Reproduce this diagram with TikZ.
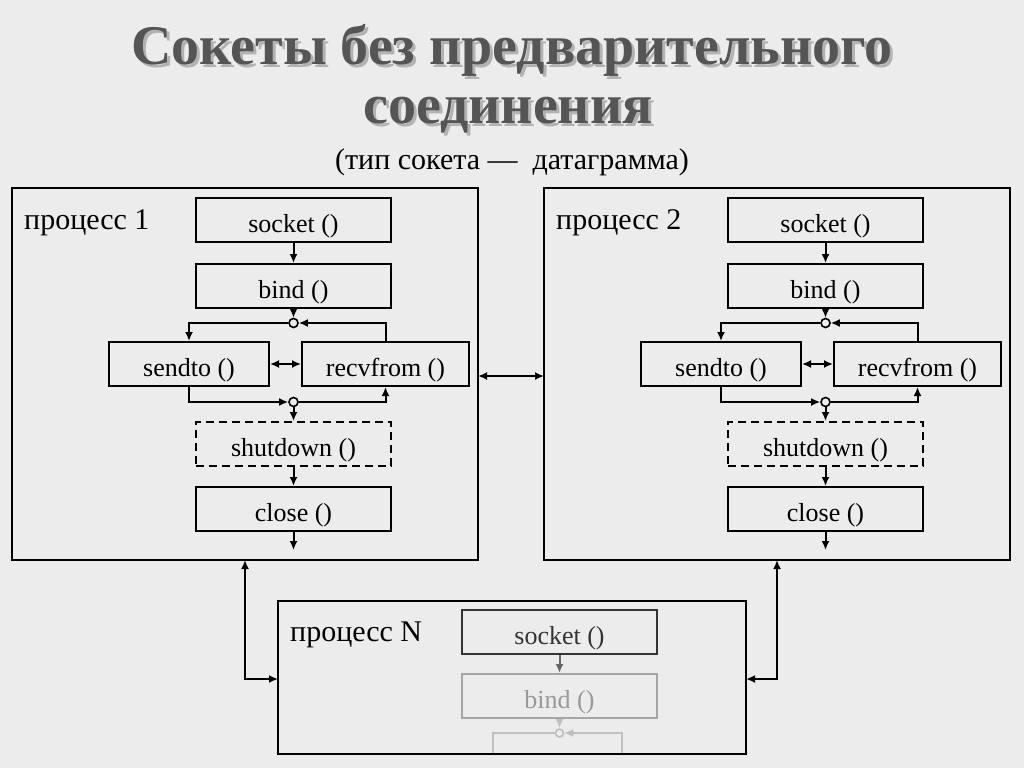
\documentclass[tikz,border=0pt]{standalone}
\usepackage{fontspec}
\setmainfont{Liberation Serif}
\usetikzlibrary{arrows.meta}
\definecolor{bgcol}{RGB}{236,236,236}
\definecolor{titlecol}{RGB}{85,85,85}
\begin{document}
\begin{tikzpicture}[x=1pt,y=-1pt,
    fn/.style={draw,line width=2pt,minimum width=195pt,minimum height=44pt,inner sep=0pt,text height=28pt,text depth=4pt,font=\fontsize{26}{28}\selectfont},
    fnsmall/.style={fn,minimum width=160pt},
    fnmid/.style={fn,minimum width=167pt},
    proc/.style={draw,line width=2pt,inner sep=0pt},
    lbl/.style={anchor=north west,inner sep=0pt,font=\fontsize{30}{32}\selectfont},
    jn/.style={circle,draw,line width=1.6pt,fill=bgcol,minimum size=9pt,inner sep=0pt},
    ln/.style={line width=2pt,-{Latex[length=9pt,width=8pt]}},
    dln/.style={line width=2pt,{Latex[length=9pt,width=8pt]}-{Latex[length=9pt,width=8pt]}}]
  \fill[bgcol] (0,0) rectangle (1024,768);
  \useasboundingbox (0,0) rectangle (1024,768);

  % title
  \node (title1) at (515,53) [text=black!30,font=\fontsize{56}{58}\selectfont\bfseries] {Сокеты без предварительного};
  \node (title) at (512,50) [text=titlecol,font=\fontsize{56}{58}\selectfont\bfseries] {Сокеты без предварительного};
  \node (title2) at (511,118) [text=black!30,font=\fontsize{56}{58}\selectfont\bfseries] {соединения};
  \node (title3) at (508,115) [text=titlecol,font=\fontsize{56}{58}\selectfont\bfseries] {соединения};
  \node (sub) at (512,162) [font=\fontsize{30}{32}\selectfont] {(тип сокета —\ \ датаграмма)};

  % process 1 and 2
  \foreach \p/\dx in {1/0,2/532}{
  \begin{scope}[xshift=\dx]
    \draw[proc] (12,188) rectangle (478,560);
    \node[lbl] at (24,209) {процесс \p};
    \node[fn] (sock\p) at (293.5,220) {socket ()};
    \node[fn] (bind\p) at (293.5,286) {bind ()};
    \node[jn] (ja\p) at (293.5,323) {};
    \node[fnsmall] (send\p) at (189,364) {sendto ()};
    \node[fnmid] (recv\p) at (385.5,364) {recvfrom ()};
    \node[jn] (jb\p) at (293.5,402) {};
    \node[fn,dashed,dash pattern=on 8pt off 5pt] (shut\p) at (293.5,444) {shutdown ()};
    \node[fn] (close\p) at (293.5,509) {close ()};
    \coordinate (end\p) at (293.5,550);
    \draw[ln] (sock\p) -- (bind\p);
    \draw[ln] (bind\p) -- (ja\p);
    \draw[ln] (ja\p) -| (send\p);
    \draw[ln] (recv\p.north) |- (ja\p);
    \draw[ln] (send\p.south) |- (jb\p);
    \draw[ln] (jb\p) -| (recv\p.south);
    \draw[dln] (send\p) -- (recv\p);
    \draw[ln] (jb\p) -- (shut\p);
    \draw[ln] (shut\p) -- (close\p);
    \draw[ln] (close\p) -- (end\p);
  \end{scope}
  }
  \coordinate (p1e) at (478,376);
  \coordinate (p2w) at (544,376);
  \draw[dln] (p1e) -- (p2w);

  % process N
  \begin{scope}
    \clip (278,601) rectangle (746,754);
    \node[fn,draw=black!35,text=black!40] (bindN) at (559.5,696) {bind ()};
    \node[jn,draw=black!25,minimum size=8pt] (jaN) at (559.5,733) {};
    \draw[ln,draw=black!25] (bindN) -- (jaN);
    \draw[ln,draw=black!25] (jaN) -| (493,770);
    \draw[ln,draw=black!25] (622,770) |- (jaN);
  \end{scope}
  \draw[proc] (278,601) rectangle (746,754);
  \node[lbl] at (290,622) {процесс N};
  \node[fn,draw=black!80,text=black!80] (sockN) at (559.5,632) {socket ()};
  \draw[ln,draw=black!60] (sockN) -- (bindN);
  \coordinate (p1s) at (245,560);
  \coordinate (p2s) at (777,560);
  \coordinate (pNw) at (278,679);
  \coordinate (pNe) at (746,679);
  \draw[dln] (p1s) |- (pNw);
  \draw[dln] (p2s) |- (pNe);
\end{tikzpicture}
\end{document}
